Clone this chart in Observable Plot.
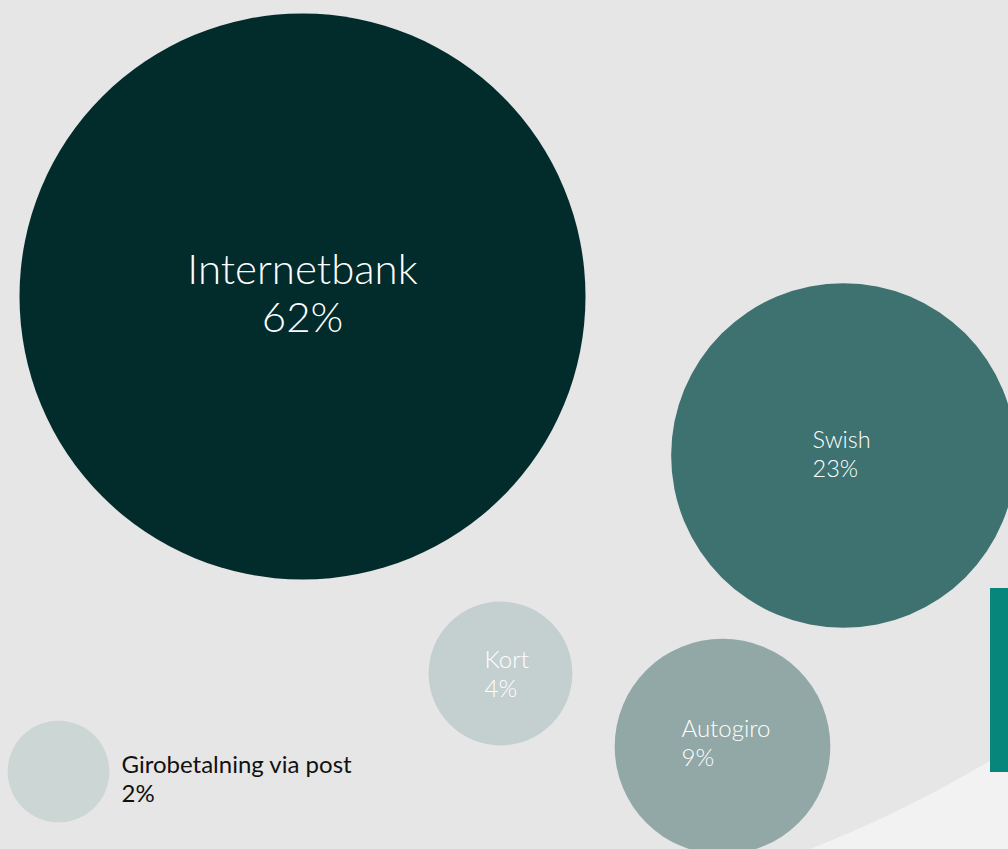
<!DOCTYPE html>
<html>
<head>
<meta charset="utf-8">
<script src="https://cdn.jsdelivr.net/npm/d3@7"></script>
<script src="https://cdn.jsdelivr.net/npm/@observablehq/plot@0.6"></script>
<style>
  html, body { margin: 0; padding: 0; background: #f2f2f2; overflow: hidden; }
  #chart svg { display: block; }
</style>
</head>
<body>
<div id="chart"></div>
<script>
// ---- data ----
const categories = ["Internetbank", "Swish", "Kort", "Autogiro", "Girobetalning via post"];
const shares = [62, 23, 4, 9, 2];
const shareLabels = ["62%", "23%", "4%", "9%", "2%"];

// ---- layout (bubble centres, label offsets) ----
const bubbleX = [302, 843, 500, 722, 58];
const bubbleY = [296, 455, 673, 746, 771];
const labelDx = [0, -31, -16, -41, 63];
const labelDy = [-4, -2, 0, -4, 7];
const labelAnchor = ["middle", "start", "start", "start", "start"];
const labelSize = [42, 23.5, 24, 24, 24];
const labelWeight = [300, 300, 300, 300, 400];
const labelLineHeight = [1.14, 1.24, 1.2, 1.18, 1.18];

// ---- styles ----
const fills = ["#022b2b", "#3e7270", "#c4cfcf", "#91a8a7", "#ccd6d4"];
const textFills = ["#ffffff", "#ffffff", "#ffffff", "#ffffff", "#111111"];

const rows = categories.map((c, i) => ({
  category: c,
  share: shares[i],
  label: c + "\n" + shareLabels[i],
  x: bubbleX[i],
  y: bubbleY[i],
  fill: fills[i]
}));

// decorative background shapes
const backdrop = [{x: 372, y: -270}];
const accentBar = [{x1: 990, x2: 1010, y1: 588, y2: 772}];

const textMarks = rows.map((d, i) => Plot.text([d], {
  x: "x", y: "y", text: "label",
  dx: labelDx[i], dy: labelDy[i],
  textAnchor: labelAnchor[i],
  lineAnchor: "middle",
  lineHeight: labelLineHeight[i],
  fontSize: labelSize[i],
  fontWeight: labelWeight[i],
  fill: textFills[i]
}));

const chart = Plot.plot({
  width: 1008,
  height: 849,
  margin: 0,
  style: {background: "#f2f2f2", fontFamily: "Lato, 'Open Sans', sans-serif", overflow: "hidden"},
  x: {domain: [0, 1008], range: [0, 1008], axis: null},
  y: {domain: [0, 849], range: [0, 849], axis: null},
  r: {type: "sqrt", domain: [0, 62], range: [0, 283]},
  marks: [
    Plot.dot(backdrop, {x: "x", y: "y", r: 1201, fill: "#e6e6e6", stroke: null}),
    Plot.rect(accentBar, {x1: "x1", x2: "x2", y1: "y1", y2: "y2", fill: "#07877b"}),
    Plot.dot(rows, {x: "x", y: "y", r: "share", fill: d => d.fill, stroke: null, fillOpacity: 1}),
    ...textMarks
  ]
});
document.getElementById("chart").appendChild(chart);
</script>
</body>
</html>
